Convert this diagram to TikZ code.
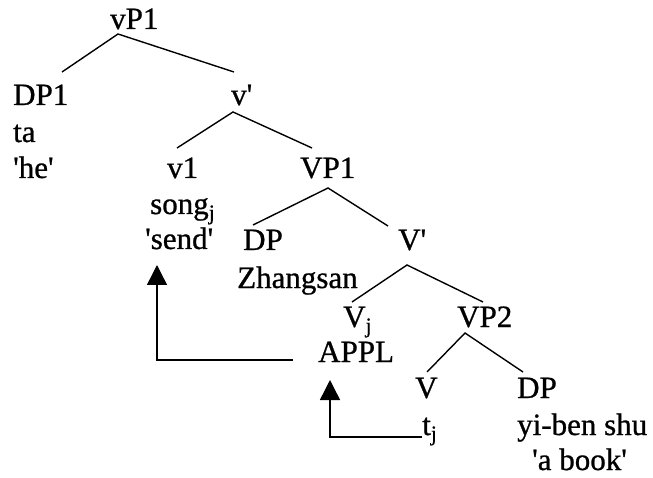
\documentclass[tikz,border=0pt]{standalone}
\usepackage{fontspec}
\setmainfont{Liberation Serif}[FakeBold=0.8]
\usetikzlibrary{arrows.meta}

\newcommand{\squo}{\textquotesingle}

\tikzset{
  lbl/.style={anchor=base west, inner sep=0pt, font=\fontsize{31}{36}\selectfont},
  branch/.style={line width=1.4pt},
  move/.style={line width=1.4pt, -{Triangle[width=20pt,length=20pt]}}
}

\begin{document}
\begin{tikzpicture}[x=1pt, y=-1pt]
                \useasboundingbox (0,0) rectangle (653,478);

                % Étiquettes de l'arbre (ligne de base de chaque mot)
                \node[lbl] (vP1) at (110,29) {vP1};
                \node[lbl] (DP1) at (13,105) {DP1};
                \node[lbl] (vbar) at (231,105) {v\squo};
                \node[lbl] (ta) at (13,142) {ta};
                \node[lbl] (he) at (13,178) {\squo he\squo};
                \node[lbl] (v1) at (167,178) {v1};
                \node[lbl] (VP1) at (300,178) {VP1};
                \node[lbl] (song) at (150,214) {song\textsubscript{j}};
                \node[lbl] (send) at (145,249) {\squo send\squo};
                \node[lbl] (DPz) at (243,250) {DP};
                \node[lbl] (Vbar) at (398,250) {V\squo};
                \node[lbl] (zhangsan) at (237,288) {Zhangsan};
                \node[lbl] (Vj) at (343,327) {V\textsubscript{j}};
                \node[lbl] (VP2) at (457,327) {VP2};
                \node[lbl] (appl) at (318,362) {APPL};
                \node[lbl] (V) at (415,398) {V};
                \node[lbl] (DPb) at (517,398) {DP};
                \node[lbl] (tj) at (422,435) {t\textsubscript{j}};
                \node[lbl] (yiben) at (517,435) {yi-ben shu};
                \node[lbl] (abook) at (532,470) {\squo a book\squo};

                % Points d'attache des branches
                \coordinate (vP1-a) at (118,34);
                \coordinate (DP1-t) at (62,72);
                \coordinate (vbar-t) at (234,72);
                \coordinate (vbar-a) at (233,112);
                \coordinate (v1-t) at (177,148);
                \coordinate (VP1-t) at (312,148);
                \coordinate (VP1-a) at (328,188);
                \coordinate (DPz-t) at (253,225);
                \coordinate (Vbar-t) at (388,226);
                \coordinate (Vbar-a) at (407,265);
                \coordinate (Vj-t) at (352,302);
                \coordinate (VP2-t) at (483,302);
                \coordinate (VP2-a) at (465,333);
                \coordinate (V-t) at (427,372);
                \coordinate (DPb-t) at (523,372);

                % Branches
                \draw[branch] (DP1-t) -- (vP1-a) -- (vbar-t);
                \draw[branch] (v1-t) -- (vbar-a) -- (VP1-t);
                \draw[branch] (DPz-t) -- (VP1-a) -- (Vbar-t);
                \draw[branch] (Vj-t) -- (Vbar-a) -- (VP2-t);
                \draw[branch] (V-t) -- (VP2-a) -- (DPb-t);

                % Mouvements de tête
                \draw[move] ([yshift=-2pt]tj.base west) -| ([xshift=12pt,yshift=-18pt]appl.base west);
                \draw[move] ([xshift=-25pt,yshift=2pt]appl.base west) -| ([xshift=12pt,yshift=-16pt]send.base west);
            \end{tikzpicture}
\end{document}
